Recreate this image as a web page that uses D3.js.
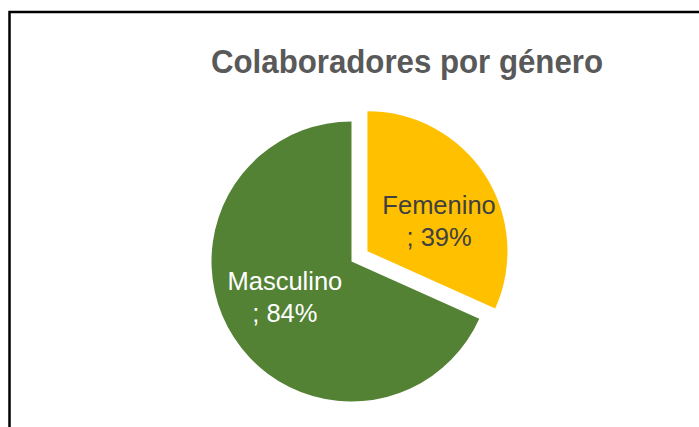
<!DOCTYPE html>
<html>
<head>
<meta charset="utf-8">
<script src="https://cdn.jsdelivr.net/npm/d3@7"></script>
<style>
  html, body { margin: 0; padding: 0; background: #fff; }
  svg { display: block; }
</style>
</head>
<body>
<svg id="chart" width="699" height="427"></svg>
<script>
// ---- data ----
const title = "Colaboradores por género";
const categories = ["Femenino", "Masculino"];
const values = [39, 84];
const labelTexts = ["; 39%", "; 84%"];
const colors = ["#FFC000", "#548235"];
const labelColors = ["#404040", "#FFFFFF"];
const exploded = [true, false];

// ---- layout ----
const W = 699, H = 427;
const cx = 351.5, cy = 261.5, R = 140;
const explodeDist = 19;
const labelRadius = 77;
const labelNudge = { "Femenino": [7, 12], "Masculino": [-2, -6] };

const svg = d3.select("#chart");

svg.append("rect")
  .attr("x", 9.5).attr("y", 12)
  .attr("width", 900).attr("height", 700)
  .attr("fill", "#fff")
  .attr("stroke", "#000")
  .attr("stroke-width", 2.5);

svg.append("text")
  .attr("x", 407).attr("y", 73)
  .attr("text-anchor", "middle")
  .attr("font-family", "Liberation Sans, Arial, sans-serif")
  .attr("font-weight", "bold")
  .attr("font-size", 32.5)
  .attr("textLength", 392)
  .attr("lengthAdjust", "spacingAndGlyphs")
  .attr("fill", "#595959")
  .text(title);

const data = categories.map((c, i) => ({ cat: c, value: values[i], label: labelTexts[i], color: colors[i], lc: labelColors[i], ex: exploded[i] }));

const pie = d3.pie().sort(null).value(d => d.value);
const arcs = pie(data);
const arc = d3.arc().innerRadius(0).outerRadius(R);
const labelArc = d3.arc().innerRadius(labelRadius).outerRadius(labelRadius);

const g = svg.append("g").attr("transform", `translate(${cx},${cy})`);

const slices = g.selectAll("g.slice").data(arcs).enter().append("g")
  .attr("class", "slice")
  .attr("transform", d => {
    if (!d.data.ex) return null;
    const a = (d.startAngle + d.endAngle) / 2;
    return `translate(${explodeDist * Math.sin(a)},${-explodeDist * Math.cos(a)})`;
  });

slices.append("path")
  .attr("d", arc)
  .attr("fill", d => d.data.color);

slices.each(function(d) {
  const [lx, ly] = labelArc.centroid(d);
  const n = labelNudge[d.data.cat] || [0, 0];
  const x = lx + n[0], y = ly + n[1];
  const t = d3.select(this).append("text")
    .attr("text-anchor", "middle")
    .attr("font-family", "Liberation Sans, Arial, sans-serif")
    .attr("font-size", 25.5)
    .attr("fill", d.data.lc);
  t.append("tspan").attr("x", x).attr("y", y - 7).text(d.data.cat);
  t.append("tspan").attr("x", x).attr("y", y + 25).text(d.data.label);
});
</script>
</body>
</html>
